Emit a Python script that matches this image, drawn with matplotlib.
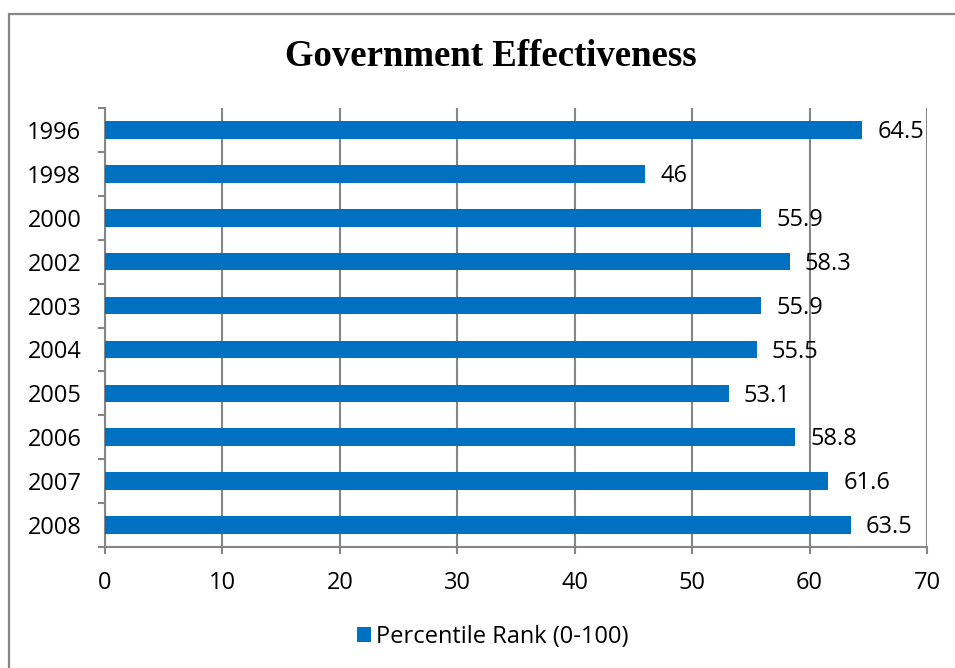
import matplotlib
matplotlib.use("Agg")
import matplotlib.pyplot as plt
from matplotlib.patches import Rectangle, Patch
import numpy as np

years = ["1996", "1998", "2000", "2002", "2003", "2004", "2005", "2006", "2007", "2008"]
rank = [64.5, 46, 55.9, 58.3, 55.9, 55.5, 53.1, 58.8, 61.6, 63.5]
value_labels = ["64.5", "46", "55.9", "58.3", "55.9", "55.5", "53.1", "58.8", "61.6", "63.5"]
x_ticks = [0, 10, 20, 30, 40, 50, 60, 70]

bar_color = "#0070C0"
gray = "#868686"
font = "Open Sans"

fig = plt.figure(figsize=(9.55, 6.68), dpi=100)
W, H = 955, 668
ax = fig.add_axes([105 / W, 1 - 547 / H, (927 - 105) / W, (547 - 108) / H])

# outer chart frame
fig.patches.append(Rectangle((9 / W, -0.1), 1.2, 1 - 14 / H + 0.1, transform=fig.transFigure,
                             fill=False, edgecolor=gray, linewidth=1.6))

y = np.arange(len(years))
ax.barh(y, rank, height=0.4, color=bar_color, zorder=3)

for yi, v, lab in zip(y, rank, value_labels):
    ax.text(v + 1.3, yi + 0.05, lab, va="center", ha="left", fontsize=17,
            family=font, color="black")

ax.set_xlim(0, 70)
ax.set_ylim(9.5, -0.5)
ax.set_xticks(x_ticks)
ax.set_xticklabels([str(t) for t in x_ticks], family=font, fontsize=17)
ax.set_yticks(y)
ax.set_yticklabels(years, family=font, fontsize=17)
ax.set_yticks(np.arange(-0.5, 10, 1), minor=True)

ax.tick_params(axis="y", which="major", length=0, pad=17)
ax.tick_params(axis="y", which="minor", length=5, width=1.5, color=gray, direction="out")
ax.tick_params(axis="x", which="major", length=5, width=1.5, color=gray, pad=12)

ax.grid(axis="x", color=gray, linewidth=1.5, zorder=0)
for side in ["top", "right"]:
    ax.spines[side].set_visible(False)
for side in ["left", "bottom"]:
    ax.spines[side].set_color(gray)
    ax.spines[side].set_linewidth(1.5)

fig.text(491 / W, 1 - 57 / H, "Government Effectiveness", ha="center", va="center",
         family="Liberation Serif", fontweight="bold", fontsize=26.5)

handle = Patch(facecolor=bar_color, edgecolor="none")
fig.legend([handle], ["Percentile Rank (0-100)"], loc="center",
           bbox_to_anchor=(493 / W, 1 - 637 / H), frameon=False,
           prop={"family": font, "size": 17}, handlelength=0.6, handleheight=0.6,
           handletextpad=0.2)

fig.savefig("out.png", dpi=100)
